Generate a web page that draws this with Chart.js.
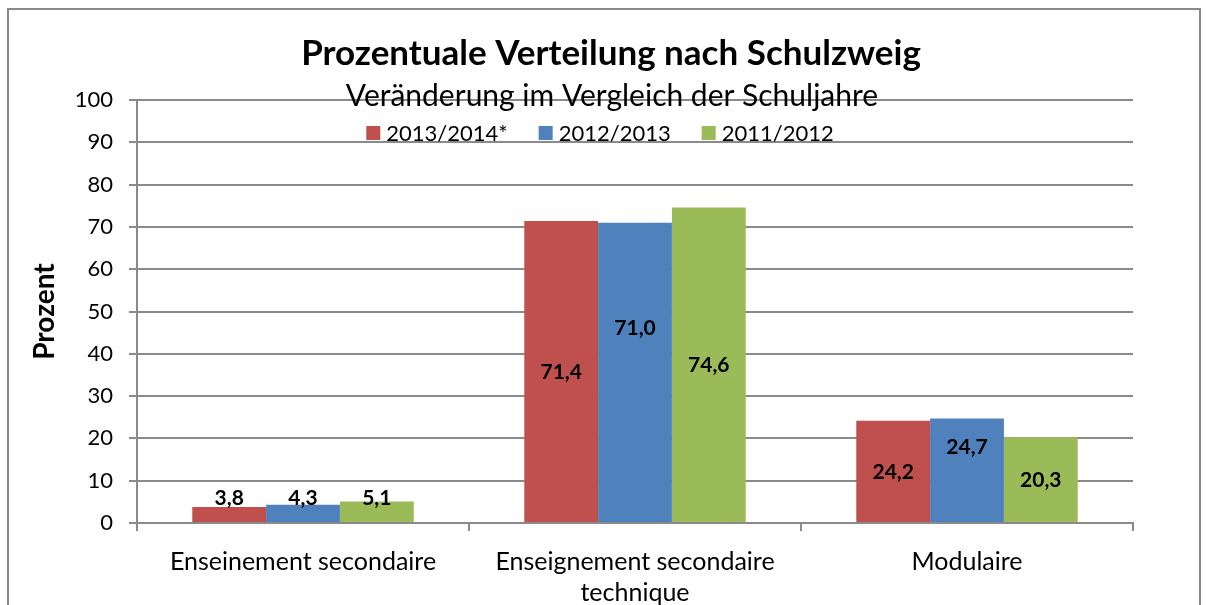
<!DOCTYPE html>
<html>
<head>
<meta charset="utf-8">
<script src="https://cdn.jsdelivr.net/npm/chart.js@4"></script>
<style>
  html, body { margin: 0; padding: 0; background: #fff; }
  #wrap { width: 1207px; height: 605px; }
</style>
</head>
<body>
<div id="wrap"><canvas id="chartSchulzweig" width="1207" height="605"></canvas></div>
<script>
// Daten
const kategorien = ['Enseinement secondaire', ['Enseignement secondaire', 'technique'], 'Modulaire'];
const serien = ['2013/2014*', '2012/2013', '2011/2012'];
const werte2013_2014 = [3.8, 71.4, 24.2];
const werte2012_2013 = [4.3, 71.0, 24.7];
const werte2011_2012 = [5.1, 74.6, 20.3];
const farben = ['#C0504D', '#4F81BD', '#9BBB59'];
const yTicks = [0, 10, 20, 30, 40, 50, 60, 70, 80, 90, 100];

const FONT = 'Lato, "Open Sans", sans-serif';
const GRAU = '#8a8a8a';

// Titel, Legende, Rahmen und Beschriftungen selbst zeichnen
const extrasPlugin = {
  id: 'extras',
  beforeDraw(chart) {
    const c = chart.ctx;
    c.save();
    c.fillStyle = '#fff';
    c.fillRect(0, 0, chart.width, chart.height);
    c.strokeStyle = GRAU;
    c.lineWidth = 2;
    c.strokeRect(8, 9, 1192, 620);
    c.restore();
  },
  afterDraw(chart, args, opts) {
    const c = chart.ctx;
    c.save();
    c.fillStyle = '#000';
    c.textAlign = 'center';
    c.textBaseline = 'middle';
    c.font = 'bold 35px ' + FONT;
    c.fillText('Prozentuale Verteilung nach Schulzweig', 611, 54);
    c.font = '30px ' + FONT;
    c.fillText('Veränderung im Vergleich der Schuljahre', 612, 96);

    // Legende
    c.font = '22px ' + FONT;
    c.textAlign = 'left';
    const items = chart.data.datasets.map(ds => ({ text: ds.label, color: ds.backgroundColor, w: c.measureText(ds.label).width }));
    const box = 14, gap = 6, spacing = 31;
    let total = 0;
    items.forEach((it, i) => { total += box + gap + it.w + (i < items.length - 1 ? spacing : 0); });
    let x = 600 - total / 2;
    items.forEach(it => {
      c.fillStyle = it.color;
      c.fillRect(x, 126, box, box);
      c.fillStyle = '#000';
      c.fillText(it.text, x + box + gap, 134);
      x += box + gap + it.w + spacing;
    });

    // Datenbeschriftungen
    c.font = 'bold 21px ' + FONT;
    c.textAlign = 'center';
    const base = chart.scales.y.getPixelForValue(0);
    chart.data.datasets.forEach((ds, di) => {
      chart.getDatasetMeta(di).data.forEach((bar, i) => {
        let y = Math.min((bar.y + base) / 2, base - 25);
        y += (opts.nudge[di + '-' + i] || 0);
        c.fillText(ds.data[i].toFixed(1).replace('.', ','), bar.x, y);
      });
    });
    c.restore();
  }
};

new Chart(document.getElementById('chartSchulzweig'), {
  type: 'bar',
  data: {
    labels: kategorien,
    datasets: [
      { label: serien[0], data: werte2013_2014, backgroundColor: farben[0] },
      { label: serien[1], data: werte2012_2013, backgroundColor: farben[1] },
      { label: serien[2], data: werte2011_2012, backgroundColor: farben[2] }
    ]
  },
  options: {
    responsive: false,
    animation: false,
    devicePixelRatio: 1,
    categoryPercentage: 0.667,
    barPercentage: 1,
    layout: { padding: { top: 100, right: 74, bottom: 0, left: 0 } },
    plugins: {
      legend: { display: false },
      title: { display: false },
      tooltip: { enabled: false },
      extras: { nudge: { '1-1': -45, '1-2': -24 } }
    },
    scales: {
      x: {
        afterFit: s => { s.height = 82; },
        grid: { drawOnChartArea: false, drawTicks: true, tickLength: 8, color: GRAU, lineWidth: 2 },
        border: { color: GRAU, width: 2 },
        ticks: { color: '#000', font: { family: FONT, size: 25, lineHeight: 1.25 }, padding: 15, maxRotation: 0 }
      },
      y: {
        min: 0,
        max: 100,
        afterFit: s => { s.width = 137; },
        afterBuildTicks: s => { s.ticks = yTicks.map(v => ({ value: v })); },
        grid: { color: GRAU, lineWidth: 2, tickLength: 8 },
        border: { color: GRAU, width: 2 },
        ticks: { color: '#000', font: { family: FONT, size: 22 }, padding: 16 },
        title: { display: true, text: 'Prozent', color: '#000', font: { family: FONT, size: 28, weight: 'bold' }, padding: { top: 28, bottom: 0 } }
      }
    }
  },
  plugins: [extrasPlugin]
});
</script>
</body>
</html>
